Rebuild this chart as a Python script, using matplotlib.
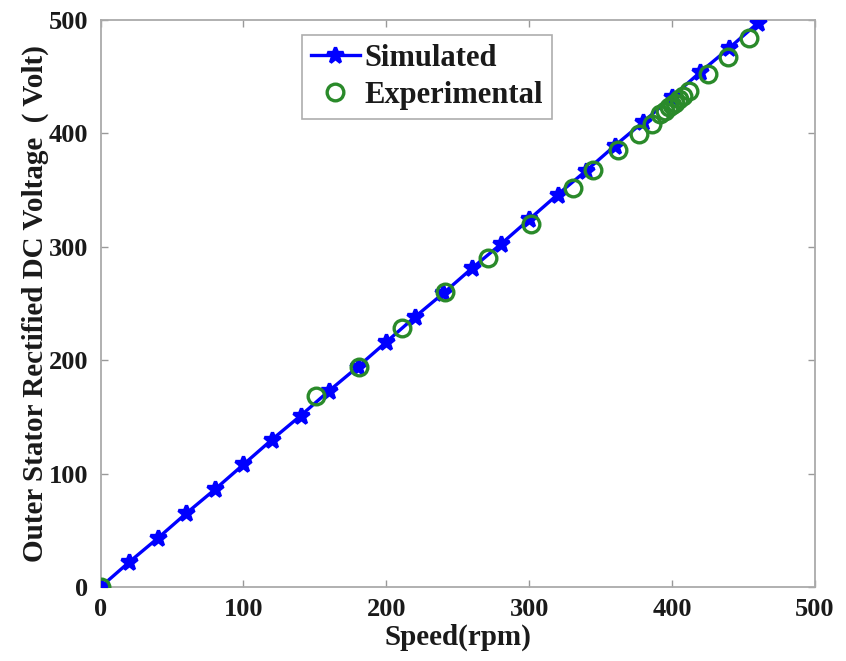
import matplotlib
matplotlib.use("Agg")
import matplotlib.pyplot as plt

plt.rcParams['font.family'] = ['Liberation Serif', 'DejaVu Serif']
plt.rcParams['font.weight'] = 'bold'

# simulated curve, every 20 rpm
sim_speed = [0, 20, 40, 60, 80, 100, 120, 140, 160, 180, 200, 220, 240,
             260, 280, 300, 320, 340, 360, 380, 400, 420, 440, 460]
sim_volt = [0, 22, 43, 65, 86, 108, 130, 151, 173, 194, 216, 238, 259,
            281, 302, 324, 346, 367, 389, 410, 432, 454, 475, 497]

# measured points
exp_speed = [0, 151, 181, 211, 241, 271, 301, 331, 345, 362, 377, 386,
             392, 395, 398, 400, 402, 405, 408, 412, 425, 439, 454]
exp_volt = [0, 168, 194, 228, 260, 290, 320, 352, 368, 385, 399, 408,
            417, 420, 423, 425, 427, 430, 433, 437, 452, 467, 484]

fig = plt.figure(figsize=(8.46, 6.61), dpi=100)
ax = fig.add_axes([0.119, 0.112, 0.844, 0.858])

ax.plot(sim_speed, sim_volt, color='#0000ff', linewidth=2.4, marker='*',
        markersize=12, markeredgewidth=2.4, label='Simulated', zorder=3)
ax.plot(exp_speed, exp_volt, linestyle='none', marker='o', markersize=12,
        markerfacecolor='none', markeredgecolor='#2a8a2a', markeredgewidth=2.4,
        label='Experimental', zorder=4)

ax.set_xlim(0, 500)
ax.set_ylim(0, 500)
ax.set_xticks([0, 100, 200, 300, 400, 500])
ax.set_yticks([0, 100, 200, 300, 400, 500])
ax.tick_params(direction='in', top=True, right=True, length=5, width=1,
               color='#999999', labelsize=19, labelcolor='#1a1a1a')
ax.tick_params(axis='x', pad=8)
ax.tick_params(axis='y', pad=9)
for s in ax.spines.values():
    s.set_color('#aaaaaa')
    s.set_linewidth(1.3)

ax.set_xlabel('Speed(rpm)', fontsize=21, fontweight='bold', color='#1a1a1a', labelpad=2)
ax.set_ylabel('Outer Stator Rectified DC Voltage  ( Volt)', fontsize=21,
              fontweight='bold', color='#1a1a1a', labelpad=0)

leg = ax.legend(loc='upper left', bbox_to_anchor=(0.2815, 0.9735), fontsize=22,
                frameon=True, fancybox=False, edgecolor='#999999',
                handlelength=1.6, handletextpad=0.15, borderpad=0.3,
                labelspacing=0.25, borderaxespad=0)
leg.get_frame().set_linewidth(1.2)
for t in leg.get_texts():
    t.set_color('#1a1a1a')

fig.savefig('out.png', dpi=100)
